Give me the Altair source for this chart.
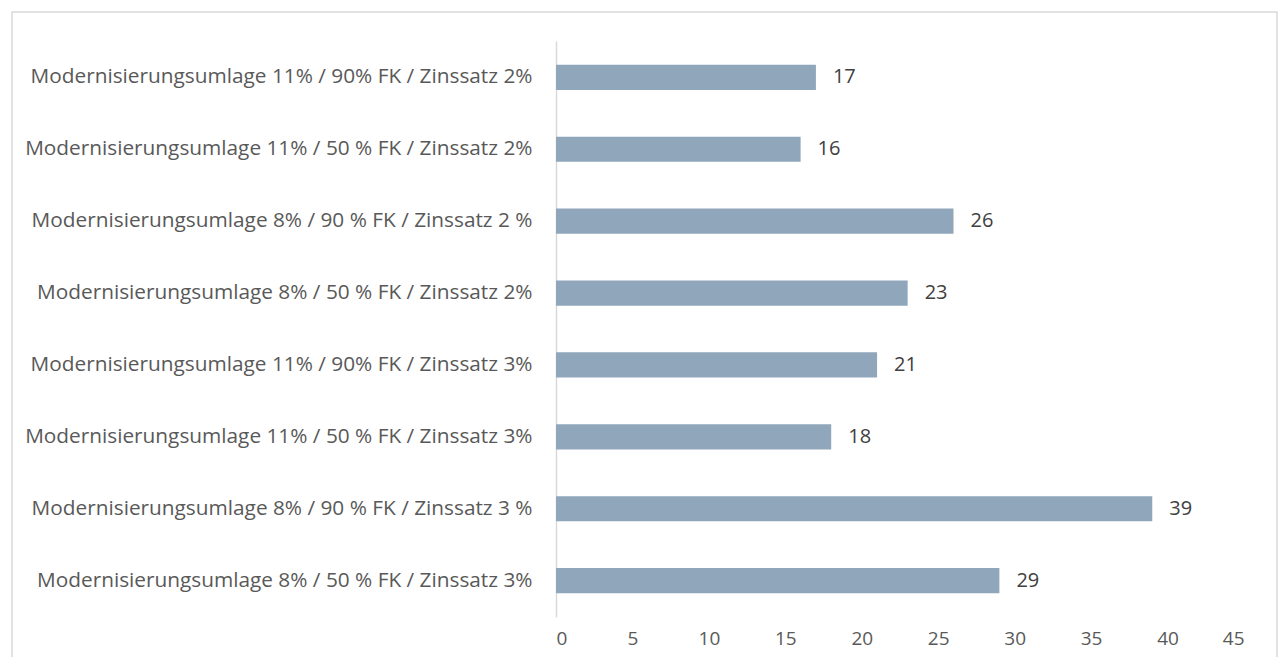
import altair as alt
import pandas as pd

categories = [
    "Modernisierungsumlage 11% / 90% FK / Zinssatz 2%",
    "Modernisierungsumlage 11% / 50 % FK / Zinssatz 2%",
    "Modernisierungsumlage 8% / 90 % FK / Zinssatz 2 %",
    "Modernisierungsumlage 8% / 50 % FK / Zinssatz 2%",
    "Modernisierungsumlage 11% / 90% FK / Zinssatz 3%",
    "Modernisierungsumlage 11% / 50 % FK / Zinssatz 3%",
    "Modernisierungsumlage 8% / 90 % FK / Zinssatz 3 %",
    "Modernisierungsumlage 8% / 50 % FK / Zinssatz 3%",
]
values = [17, 16, 26, 23, 21, 18, 39, 29]
x_ticks = [0, 5, 10, 15, 20, 25, 30, 35, 40, 45]

df = pd.DataFrame({"Kategorie": categories, "Wert": values})

FONT = "Open Sans"
W, H = 688, 576
PAD = {"left": 548, "top": 33, "right": 34, "bottom": 40}

base = alt.Chart(df)

y_enc = alt.Y(
    "Kategorie:N",
    sort=categories,
    title=None,
    scale=alt.Scale(paddingInner=0.65, paddingOuter=0.33),
    axis=alt.Axis(
        ticks=False,
        domain=True,
        domainColor="#d9d9d9",
        domainWidth=1.5,
        labelPadding=24,
        labelFontSize=20.8,
        labelColor="#595959",
        labelFont=FONT,
        labelLimit=600,
    ),
)
x_enc = alt.X(
    "Wert:Q",
    title=None,
    scale=alt.Scale(domain=[0, 45], nice=False),
    axis=alt.Axis(
        values=x_ticks,
        grid=False,
        domain=False,
        ticks=False,
        labelPadding=12,
        labelFontSize=19,
        labelColor="#595959",
        labelFont=FONT,
    ),
)

bars = base.mark_bar(color="#8FA6BB").encode(y=y_enc, x=x_enc)
labels = base.mark_text(
    align="left", baseline="middle", dx=17, fontSize=20, font=FONT, color="#404040"
).encode(y=alt.Y("Kategorie:N", sort=categories), x="Wert:Q", text="Wert:Q")

frame = alt.Chart(alt.Data(values=[{}])).mark_rect(
    fill=None, stroke="#d9d9d9", strokeWidth=1.5, clip=False
).encode(
    x=alt.value(-544), x2=alt.value(W + PAD["right"] - 1),
    y=alt.value(-29), y2=alt.value(H + PAD["bottom"] + 10),
)

chart = alt.layer(frame, bars, labels).properties(
    width=W, height=H, padding=PAD, autosize=alt.AutoSizeParams(type="none"),
    background="white",
).configure_view(stroke=None)

chart.save("out.html", embed_options={"renderer": "svg", "actions": False})
